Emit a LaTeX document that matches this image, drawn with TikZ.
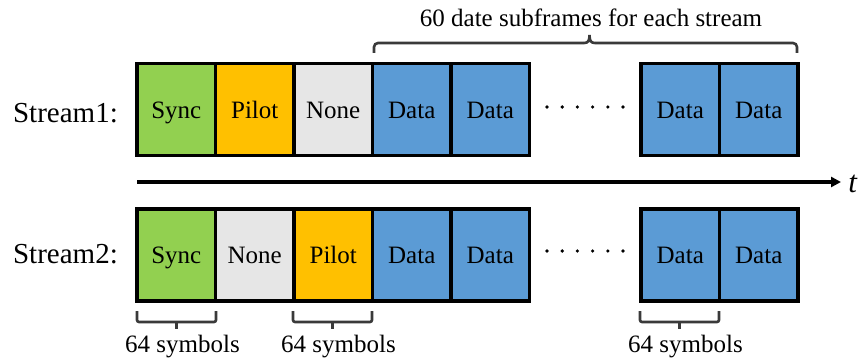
\documentclass[tikz,border=0pt]{standalone}
\usepackage{fontspec}
\setmainfont{Liberation Serif}
\usetikzlibrary{arrows.meta}
\definecolor{syncgreen}{HTML}{92D050}
\definecolor{pilotorange}{HTML}{FFC000}
\definecolor{nonegray}{HTML}{E6E6E6}
\definecolor{datablue}{HTML}{5B9BD5}
\definecolor{brkgray}{HTML}{3A3A3A}
\begin{document}
\begin{tikzpicture}[x=1pt,y=-1pt,
  box/.style={draw=black, line width=3.6pt, minimum width=78.5pt, minimum height=92pt,
    inner sep=0pt, text height=17.6pt, text depth=0pt, font=\fontsize{25}{30}\selectfont},
  syncbox/.style={box, fill=syncgreen},
  pilotbox/.style={box, fill=pilotorange},
  nonebox/.style={box, fill=nonegray},
  databox/.style={box, fill=datablue},
  streamlabel/.style={anchor=base east, inner sep=0pt, font=\fontsize{29}{34}\selectfont},
  annot/.style={anchor=base, inner sep=0pt, font=\fontsize{25}{30}\selectfont},
  brk/.style={draw=brkgray, line width=2.6pt},
  dotmark/.style={circle, fill=black, inner sep=0pt, minimum size=3.6pt}]
\useasboundingbox (0,0) rectangle (859,358);

% Stream 1
\node[streamlabel] (l1) at (118,122.7) {Stream1:};
\node[syncbox]  (a1) at (176.25,109.5) {Sync};
\node[pilotbox] (a2) at (254.75,109.5) {Pilot};
\node[nonebox]  (a3) at (333.25,109.5) {None};
\node[databox]  (a4) at (411.75,109.5) {Data};
\node[databox]  (a5) at (490.25,109.5) {Data};
\node[databox]  (a6) at (680.25,109.5) {Data};
\node[databox]  (a7) at (758.75,109.5) {Data};

% Stream 2
\node[streamlabel] (l2) at (118,263.3) {Stream2:};
\node[syncbox]  (b1) at (176.25,255) {Sync};
\node[nonebox]  (b2) at (254.75,255) {None};
\node[pilotbox] (b3) at (333.25,255) {Pilot};
\node[databox]  (b4) at (411.75,255) {Data};
\node[databox]  (b5) at (490.25,255) {Data};
\node[databox]  (b6) at (680.25,255) {Data};
\node[databox]  (b7) at (758.75,255) {Data};

% dots
\foreach \i in {0,...,5}{
  \node[dotmark] (p\i) at (547+15.2*\i,107) {};
  \node[dotmark] (q\i) at (547+15.2*\i,251) {};
}

% time axis
\coordinate (tstart) at (137,182);
\coordinate (tend) at (841,182);
\node[inner sep=0pt, font=\fontsize{31}{36}\selectfont] (t) at (853,184) {\textit{t}};
\draw[line width=3.6pt, -{Triangle[length=10pt,width=10pt]}] (tstart) -- (tend);

% top brace
\draw[brk, rounded corners=4pt] (374,53) -- (374,43) -- (584,43);
\draw[brk] (584,43) .. controls (588,43) and (589.5,41) .. (589.5,35)
           .. controls (589.5,41) and (591,43) .. (595,43);
\draw[brk, rounded corners=4pt] (595,43) -- (797,43) -- (797,53);
\node[annot] (top) at (591,27) {60 date subframes for each stream};

% bottom brackets
\foreach \xa/\xb/\n in {137/216/c1, 293/372/c2, 640/719/c3}{
  \draw[brk, rounded corners=2pt] (\xa,311) -- (\xa,322) -- (\xb,322) -- (\xb,311);
  \draw[brk] ({(\xa+\xb)/2},322) -- ({(\xa+\xb)/2},329);
  \node[annot] (\n) at ({(\xa+\xb)/2+6},352.5) {64 symbols};
}
\end{tikzpicture}
\end{document}
